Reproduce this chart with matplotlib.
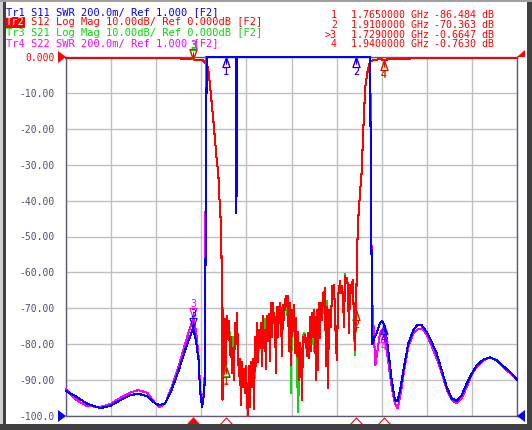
import numpy as np
import matplotlib
matplotlib.use("Agg")
import matplotlib.pyplot as plt
import matplotlib.transforms as mtransforms
from matplotlib.path import Path
from matplotlib.patches import Rectangle, Polygon

plt.rcParams['font.family'] = 'DejaVu Sans Mono'

W, H = 532, 430

# sweep 1.588 .. 2.088 GHz (MHz)
F_START, F_STOP = 1588.0, 2088.0

Y_TICKS = [-100, -90, -80, -70, -60, -50, -40, -30, -20, -10, 0]
Y_TICK_LABELS = ["-100.0", "-90.00", "-80.00", "-70.00", "-60.00", "-50.00",
                 "-40.00", "-30.00", "-20.00", "-10.00", "0.000"]

LEGEND = [
    ("Tr1", "S11 SWR 200.0m/ Ref 1.000 [F2]", "#0000ff"),
    ("Tr2", "S12 Log Mag 10.00dB/ Ref 0.000dB [F2]", "#ff0000"),
    ("Tr3", "S21 Log Mag 10.00dB/ Ref 0.000dB [F2]", "#00dd00"),
    ("Tr4", "S22 SWR 200.0m/ Ref 1.000 [F2]", "#ff00ff"),
]

MARKER_F = [1765.0, 1910.0, 1729.0, 1940.0]
MARKER_NAMES = ["1", "2", "3", "4"]
MARKER_TABLE = [("1", "1.7650000 GHz", "-86.484 dB"),
                ("2", "1.9100000 GHz", "-70.363 dB"),
                (">3", "1.7290000 GHz", "-0.6647 dB"),
                ("4", "1.9400000 GHz", "-0.7630 dB")]
ACTIVE = 2

# S12 / S21 log mag, dB
S12_LEFT_F = [1588.0, 1620.0, 1660.0, 1700.0, 1720.0, 1729.0, 1735.0, 1739.5, 1741.1, 1744.3,
              1745.8, 1747.6, 1749.5, 1751.3, 1753.2, 1755.1, 1756.8, 1758.2, 1759.5, 1760.4,
              1761.0, 1761.5]
S12_LEFT_DB = [-0.2, -0.2, -0.25, -0.3, -0.45, -0.66, -0.8, -0.9, -1.2, -2.2,
               -3.6, -7.8, -12.8, -17.5, -23.1, -28.7, -32.3, -39.8, -45.4, -55.7,
               -70.5, -95.5]
S21_LEFT_DB = [-0.2, -0.2, -0.25, -0.3, -0.45, -0.66, -0.8, -0.9, -1.2, -2.2,
               -3.6, -7.8, -12.8, -17.5, -23.1, -28.7, -32.3, -39.8, -45.4, -55.7,
               -70.5, -95.5]

STOP_F0, STOP_F1 = 1762.0, 1909.5
S12_STOP_DB = [
    -70.5, -88, -73, -86.5, -72, -77, -73.5, -83, -78, -88,
    -81, -90, -74, -80, -71.2, -82, -89, -84, -97, -85,
    -92, -87, -93.5, -86, -95, -100, -86, -97.5, -85, -92,
    -84, -98, -78, -86, -74, -85, -76, -81, -74, -86,
    -72, -81, -76, -87, -72, -79,
    -71.5, -84.8, -68.6, -78, -68.4, -74, -72.3, -88, -69.5, -78,
    -70.9, -68.6, -71, -83.4, -69, -73.2, -68, -66.5, -69.5, -66.7,
    -82, -68.6, -85.8, -70.4, -73.2, -69, -82.5, -72.7, -83.4, -76.5,
    -89.9, -79.7, -82, -95.5, -77.9, -79.3, -77.4, -78.8, -83.4, -76.9,
    -83.9, -72.3, -82, -71.3, -77.9, -70.4, -74.1, -89.9,
    -70.4, -87.2, -68.6, -78.3, -68.6, -73.2, -65.8, -66.7, -64.4, -86.2,
    -69.5, -92.3, -70.4, -71.8, -75.1, -63.9, -65.3, -63.4, -71.3, -80.6,
    -84.4, -66.7, -64.8, -62.5, -65.8, -63.9, -66.7, -75.1, -61.1, -63,
    -61.6, -63.9, -76.9, -63.4, -65.8, -63, -62, -75.1, -81.6, -70.4,
]
S21_STOP_DB = [
    -70.0, -88, -73, -86, -72, -77, -73.5, -79, -78, -88,
    -78, -90, -74, -80, -71.5, -82, -89, -84, -97, -85,
    -90, -87, -93.5, -86, -95, -99.5, -86, -97.5, -85, -92,
    -84, -98, -82, -86, -74, -85, -80, -81, -74, -86,
    -72, -81, -73, -87, -72, -79,
    -71.5, -84.8, -70, -78, -68.4, -74, -72.3, -88, -69.5, -77,
    -70.9, -68.6, -71, -83.4, -69, -73.2, -68, -66.5, -72, -66.7,
    -82, -68.6, -93.5, -70.4, -73.2, -69, -82.5, -72.7, -83.4, -99,
    -89.9, -79.7, -82, -95.5, -77.9, -77, -77.4, -78.8, -83.4, -76.9,
    -83.9, -72.3, -82, -71.3, -77.9, -82, -74.1, -83.4,
    -70.4, -87.2, -68.6, -78.3, -68.6, -73.2, -70, -66.7, -64.4, -86.2,
    -68, -92.3, -70.4, -71.8, -75.1, -63.9, -65.3, -63.4, -71.3, -80.6,
    -84.4, -66.7, -64.8, -62.5, -65.8, -63.9, -66.7, -75.1, -60.5, -63,
    -61.6, -63.9, -76.9, -63.4, -65.8, -63, -62, -75.1, -83, -70.5,
]

S12_RIGHT_F = [1910.3, 1911.0, 1912.0, 1913.4, 1914.5, 1915.8, 1917.3, 1918.7, 1920.0, 1922.0,
               1925.0, 1930.6, 1936.1, 1940.0, 1960.0, 2000.0, 2050.0, 2088.0]
S12_RIGHT_DB = [-60.0, -52.0, -45.0, -40.0, -36.0, -32.0, -22.0, -13.8, -8.0, -4.5,
                -1.2, -0.8, -0.6, -0.76, -0.45, -0.3, -0.25, -0.2]
S21_RIGHT_DB = [-60.0, -52.0, -45.0, -40.0, -36.0, -32.0, -22.0, -13.8, -8.0, -4.5,
                -1.2, -0.8, -0.6, -0.76, -0.45, -0.3, -0.25, -0.2]

# S11 / S22 SWR (3.0 = pinned at top of screen)
S11_F = [1588.0, 1600.0, 1611.0, 1626.0, 1637.0, 1648.0, 1659.0, 1668.0, 1678.0, 1687.0,
         1692.0, 1698.0, 1705.0, 1713.0, 1720.0, 1726.0, 1729.0, 1732.0, 1735.0, 1736.6,
         1738.8, 1740.4, 1742.0, 1743.0, 1744.0, 1776.2, 1776.8, 1777.4, 1778.0, 1925.0,
         1927.5, 1930.0, 1932.4, 1936.0, 1938.7, 1941.6, 1945.3, 1949.1, 1952.7, 1955.7,
         1959.1, 1962.7, 1967.5, 1973.0, 1977.5, 1982.3, 1987.9, 1993.4, 1999.0, 2004.5,
         2010.0, 2015.6, 2021.1, 2026.7, 2032.2, 2037.8, 2043.3, 2050.6, 2058.0, 2065.5,
         2072.8, 2080.2, 2088.0]
S11_SWR = [1.140, 1.106, 1.070, 1.044, 1.056, 1.088, 1.116, 1.124, 1.110, 1.070,
           1.060, 1.072, 1.144, 1.254, 1.366, 1.450, 1.490, 1.422, 1.310, 1.140,
           1.050, 1.100, 1.200, 2.200, 3.000, 3.000, 2.130, 2.400, 3.000, 3.000,
           1.400, 1.440, 1.460, 1.516, 1.530, 1.496, 1.366, 1.200, 1.088, 1.084,
           1.162, 1.274, 1.404, 1.478, 1.506, 1.506, 1.468, 1.412, 1.348, 1.254,
           1.162, 1.098, 1.084, 1.116, 1.180, 1.236, 1.282, 1.314, 1.326, 1.310,
           1.278, 1.246, 1.204]

S22_F = [1588.0, 1600.0, 1611.0, 1626.0, 1637.0, 1648.0, 1659.0, 1668.0, 1678.0, 1687.0,
         1692.0, 1698.0, 1705.0, 1713.0, 1720.0, 1726.0, 1729.0, 1732.0, 1735.0, 1736.6,
         1738.8, 1740.4, 1742.0, 1742.8, 1743.6, 1925.3, 1927.0, 1931.0, 1936.0, 1938.7,
         1941.6, 1945.3, 1949.1, 1952.7, 1955.7, 1959.1, 1962.7, 1967.5, 1973.0, 1977.5,
         1982.3, 1987.9, 1993.4, 1999.0, 2004.5, 2010.0, 2015.6, 2021.1, 2026.7, 2032.2,
         2037.8, 2043.3, 2050.6, 2058.0, 2065.5, 2072.8, 2080.2, 2088.0]
S22_SWR = [1.148, 1.088, 1.056, 1.050, 1.066, 1.100, 1.130, 1.144, 1.130, 1.070,
           1.050, 1.070, 1.160, 1.280, 1.400, 1.500, 1.545, 1.480, 1.330, 1.160,
           1.060, 1.120, 1.250, 2.300, 3.000, 3.000, 1.700, 1.282, 1.460, 1.482,
           1.432, 1.300, 1.162, 1.070, 1.042, 1.126, 1.250, 1.384, 1.460, 1.482,
           1.488, 1.455, 1.390, 1.320, 1.240, 1.150, 1.090, 1.070, 1.100, 1.160,
           1.230, 1.275, 1.310, 1.326, 1.312, 1.270, 1.240, 1.204]

# marker readouts per trace
S11_MK = [3.0, 3.0, 1.49, 1.51]
S12_MK = [-86.484, -70.363, -0.6647, -0.7630]
S21_MK = [-86.0, -70.5, -0.7, -0.8]
S22_MK = [3.0, 3.0, 1.545, 1.47]

RED, BLUE, GREEN, MAG = "#ff0000", "#0000ff", "#00dd00", "#ff00ff"
AX_COL, GRID_COL, TICK_COL = "#5a5a78", "#c0c0c0", "#505070"


def px(x, y):
    return (x / W, 1 - y / H)


fig = plt.figure(figsize=(W / 100, H / 100), dpi=100)
fig.patch.set_facecolor("white")

ax = fig.add_axes([66 / W, 14 / H, 451 / W, 359 / H])
ax2 = ax.twinx()

stop_f = np.linspace(STOP_F0, STOP_F1, len(S12_STOP_DB))
s12_f = np.concatenate([S12_LEFT_F, stop_f, S12_RIGHT_F])
s12_db = np.concatenate([S12_LEFT_DB, S12_STOP_DB, S12_RIGHT_DB])
s21_db = np.concatenate([S21_LEFT_DB, S21_STOP_DB, S21_RIGHT_DB])

trace_kw = dict(lw=0.75, clip_on=False, antialiased=False)
ax.plot(s12_f, s21_db, color=GREEN, zorder=3, **trace_kw)
ax.plot(s12_f, s12_db, color=RED, zorder=4, **trace_kw)
ax2.plot(S22_F, S22_SWR, color=MAG, zorder=3, **trace_kw)
ax2.plot(S11_F, S11_SWR, color=BLUE, zorder=4, **trace_kw)

TRI_UP = Path([(0, 1), (-0.7, -1), (0.7, -1), (0, 1), (0, 1), (0, -0.4)],
              [Path.MOVETO, Path.LINETO, Path.LINETO, Path.LINETO, Path.MOVETO, Path.LINETO])
TRI_DOWN = Path([(0, -1), (-0.7, 1), (0.7, 1), (0, -1), (0, -1), (0, 0.4)],
                [Path.MOVETO, Path.LINETO, Path.LINETO, Path.LINETO, Path.MOVETO, Path.LINETO])


def draw_markers(a, values, color, label_color=None):
    for i, (f, v) in enumerate(zip(MARKER_F, values)):
        if i == ACTIVE:
            path, dy_tri, dy_lab = TRI_DOWN, 5, 14
        else:
            path, dy_tri, dy_lab = TRI_UP, -5, -15
        t_tri = mtransforms.offset_copy(a.transData, x=0, y=dy_tri, units='dots')
        a.plot([f], [v], marker=path, ms=7.2, mfc='none', mec=color, mew=0.8,
               transform=t_tri, clip_on=False, zorder=6, ls='none')
        t_lab = mtransforms.offset_copy(a.transData, x=0, y=dy_lab, units='dots')
        lc = label_color if (label_color and i == ACTIVE) else color
        a.text(f, v, MARKER_NAMES[i], transform=t_lab, color=lc, ha='center',
               va='center', fontsize=7.2, clip_on=False, zorder=6)


draw_markers(ax, S21_MK, GREEN)
draw_markers(ax, S12_MK, RED, label_color=MAG)
draw_markers(ax2, S22_MK, MAG)
draw_markers(ax2, S11_MK, BLUE)

# stimulus markers under the grid
strip = Path([(0, 0.54), (-1, -0.54), (1, -0.54), (0, 0.54)],
             [Path.MOVETO, Path.LINETO, Path.LINETO, Path.CLOSEPOLY])
blend = mtransforms.blended_transform_factory(ax.transData, ax.transAxes)
t_strip = mtransforms.offset_copy(blend, x=0, y=-4.7, units='dots')
for i, f in enumerate(MARKER_F):
    ax.plot([f], [0], marker=strip, ms=9.4, mec=RED, mew=0.8,
            mfc=RED if i == ACTIVE else 'white', transform=t_strip,
            clip_on=False, zorder=6, ls='none')

ax.set_xlim(F_START, F_STOP)
ax.set_ylim(-100, 0)
ax2.set_ylim(1.0, 3.0)
ax.set_xticks(np.linspace(F_START, F_STOP, 11))
ax.set_xticklabels([])
ax.set_yticks(Y_TICKS)
ax.set_yticklabels(Y_TICK_LABELS)
ax.tick_params(axis='x', length=0)
ax.tick_params(axis='y', length=0, pad=8, labelsize=7.0, labelcolor=TICK_COL)
ax.get_yticklabels()[-1].set_color(RED)
ax.grid(True, color=GRID_COL, lw=1.0)
ax.set_axisbelow(True)
for s in ax.spines.values():
    s.set_color(AX_COL)
    s.set_linewidth(1.0)
ax2.set_yticks([])
for s in ax2.spines.values():
    s.set_visible(False)

# reference position arrows
for pts, col in [([(58, 51), (66, 57), (58, 63)], RED),
                 ([(58, 410), (66, 416), (58, 422)], BLUE),
                 ([(525, 410), (517, 416), (525, 422)], BLUE),
                 ([(517, 57), (525, 57), (525, 50)], RED),
                 ([(1, 18), (6, 22.5), (1, 27)], RED)]:
    fig.patches.append(Polygon([px(*p) for p in pts], closed=True, facecolor=col,
                               edgecolor='none', transform=fig.transFigure))

# trace legend
for k, (tr, rest, col) in enumerate(LEGEND):
    y = 12 + k * 10.3
    fig.text(*px(6, y), tr + " " + rest, color=col, fontsize=7.5, va='center', ha='left')
fig.patches.append(Rectangle(px(6, 28), 19 / W, 11 / H, facecolor=RED,
                             edgecolor='none', transform=fig.transFigure, zorder=2))
fig.text(*px(6, 22.3), "Tr2", color="white", fontsize=7.5, va='center', ha='left', zorder=3)

# marker table
for k, (num, freq, val) in enumerate(MARKER_TABLE):
    y = 15 + k * 9.8
    fig.text(*px(337, y), num, color=RED, fontsize=7.2, va='center', ha='right')
    fig.text(*px(351, y), freq, color=RED, fontsize=7.2, va='center', ha='left')
    fig.text(*px(494, y), val, color=RED, fontsize=7.2, va='center', ha='right')

# window frame
for (x0, y0, w, h, col) in [(0, 0, 3, H, "#d0d0d0"), (3, 0, 3, 425, "#404040"),
                            (0, 424, W, 6, "#404040"), (527, 0, 5, H, "#404040"),
                            (0, 0, W, 2, "#a0a0a0")]:
    fig.patches.append(Rectangle(px(x0, y0 + h), w / W, h / H, facecolor=col,
                                 edgecolor='none', transform=fig.transFigure))

fig.savefig("out.png", dpi=100)
